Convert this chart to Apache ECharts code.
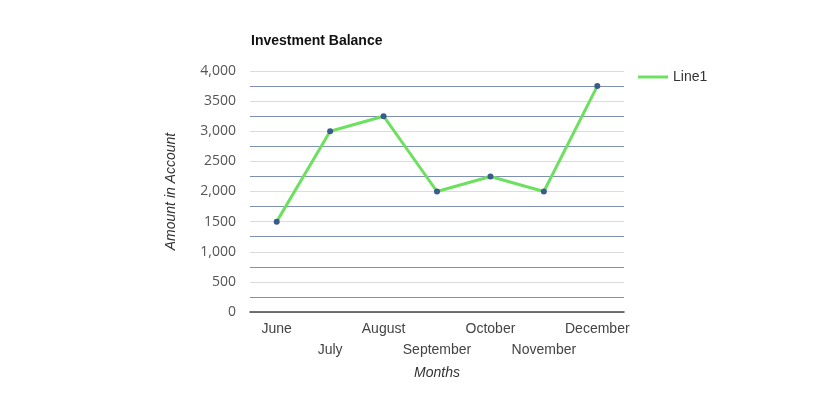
<!DOCTYPE html>
<html><head><meta charset="utf-8">
<script src="https://cdn.jsdelivr.net/npm/echarts@6/dist/echarts.min.js"></script>
<style>html,body{margin:0;padding:0;background:#fff}#c{width:826px;height:410px}</style>
</head><body><div id="c"></div>
<script>
const categories = ['June','July','August','September','October','November','December'];
const balance = [1500, 3000, 3250, 2000, 2250, 2000, 3750];
const yTickValues = [0, 500, 1000, 1500, 2000, 2500, 3000, 3500, 4000];
const yTickLabels = ['0', '500', '1,000', '1500', '2,000', '2500', '3,000', '3500', '4,000'];

const chart = echarts.init(document.getElementById('c'));
chart.setOption({
  animation: false,
  backgroundColor: '#fff',
  title: {
    text: 'Investment Balance', left: 246, top: 29,
    textStyle: {fontSize: 14, fontWeight: 'bold', color: '#111', fontFamily: 'Liberation Sans'}
  },
  legend: {
    left: 633, top: 65, itemWidth: 30, itemHeight: 3, itemGap: 6,
    data: [{name: 'Line1', icon: 'rect', itemStyle: {color: '#6ee060'}}],
    textStyle: {fontSize: 14, color: '#333', fontFamily: 'Liberation Sans'}
  },
  grid: {left: 250, right: 202, top: 71, bottom: 98},
  xAxis: {
    type: 'category', data: categories, boundaryGap: true,
    axisLine: {lineStyle: {color: '#444', width: 1.5}},
    axisTick: {show: false},
    axisLabel: {
      interval: 0, margin: 7, fontSize: 14, color: '#444', fontFamily: 'Liberation Sans', lineHeight: 21,
      formatter: (v, i) => (i % 2 === 1 ? '\n' + v : v)
    },
    name: 'Months', nameLocation: 'middle', nameGap: 50,
    nameTextStyle: {fontSize: 14, fontStyle: 'italic', color: '#333', fontFamily: 'Liberation Sans'}
  },
  yAxis: {
    type: 'value', min: 0, max: 4000, interval: 500,
    axisLine: {show: false}, axisTick: {show: false},
    axisLabel: {
      margin: 14, fontSize: 14, color: '#555', fontFamily: 'Open Sans',
      formatter: v => { const k = yTickValues.indexOf(v); return k >= 0 ? yTickLabels[k] : ''; }
    },
    splitLine: {lineStyle: {color: '#dcdcdc', width: 1}},
    minorTick: {show: false, splitNumber: 2},
    minorSplitLine: {show: true, lineStyle: {color: '#8090b4', width: 1}},
    name: 'Amount in Account', nameLocation: 'middle', nameGap: 72,
    nameTextStyle: {fontSize: 14, fontStyle: 'italic', color: '#333', fontFamily: 'Liberation Sans'}
  },
  series: [{
    name: 'Line1', type: 'line', data: balance,
    symbol: 'circle', symbolSize: 6,
    lineStyle: {color: '#6ee060', width: 3},
    itemStyle: {color: '#3b5b8c'}
  }]
});
</script></body></html>
